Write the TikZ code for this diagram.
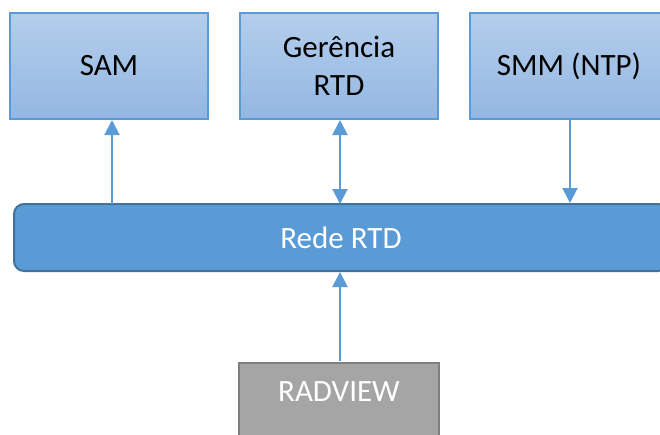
\documentclass[tikz,border=0pt]{standalone}
\usepackage{fontspec}
\setmainfont{Carlito}
\usetikzlibrary{arrows.meta}
\definecolor{boxtop}{HTML}{B4CEEC}
\definecolor{boxbot}{HTML}{93B7E2}
\definecolor{boxedge}{HTML}{5B9BD5}
\definecolor{netfill}{HTML}{5B9BD5}
\definecolor{netedge}{HTML}{41719C}
\definecolor{greyfill}{HTML}{A5A5A5}
\definecolor{greyedge}{HTML}{7F7F7F}
\tikzset{
  topbox/.style={draw=boxedge, line width=1.2pt, top color=boxtop, bottom color=boxbot,
    minimum width=198pt, minimum height=106pt, inner sep=0pt, align=center,
    font=\fontsize{31}{38}\selectfont, text=black},
  netbox/.style={draw=netedge, line width=2pt, fill=netfill, rounded corners=10pt,
    minimum width=654pt, minimum height=67pt, inner sep=0pt,
    font=\fontsize{31}{38}\selectfont, text=white},
  greybox/.style={draw=greyedge, line width=2pt, fill=greyfill,
    minimum width=200pt, minimum height=110pt, inner sep=0pt,
    font=\fontsize{31}{38}\selectfont, text=white},
  link/.style={draw=boxedge, line width=2pt, -{Triangle[length=15pt,width=15pt]}},
  dlink/.style={draw=boxedge, line width=2pt, {Triangle[length=15pt,width=15pt]}-{Triangle[length=15pt,width=15pt]}}
}
\begin{document}
\begin{tikzpicture}[x=1pt,y=-1pt]
\useasboundingbox (0,0) rectangle (660,434);
\clip (0,0) rectangle (660,434);
\node[topbox] (sam) at (109,66) {SAM};
\node[topbox] (ger) at (339,66) {Gerência\\RTD};
\node[topbox] (smm) at (569,66) {SMM (NTP)};
\node[netbox] (rede) at (341,237.5) {Rede RTD};
\node[greybox] (rad) at (339,418) {};
\node[font=\fontsize{31}{38}\selectfont, text=white] (radt) at (339,392) {RADVIEW};
\coordinate (samb) at (112,204);
\coordinate (samt) at (112,120);
\draw[link] (samb) -- (samt);
\coordinate (gert) at (340,120);
\coordinate (gerb) at (340,204);
\draw[dlink] (gert) -- (gerb);
\coordinate (smmt) at (570,119);
\coordinate (smmb) at (570,203);
\draw[link] (smmt) -- (smmb);
\coordinate (radtop) at (340,361);
\coordinate (redeb) at (340,272);
\draw[link] (radtop) -- (redeb);
\end{tikzpicture}
\end{document}
